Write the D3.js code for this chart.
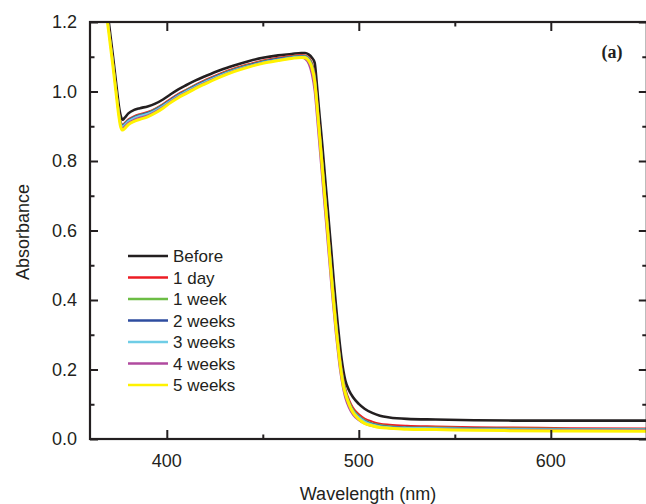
<!DOCTYPE html>
<html>
<head>
<meta charset="utf-8">
<script src="https://cdn.jsdelivr.net/npm/d3@7"></script>
<style>
body { margin: 0; background: #fff; }
text { font-family: "Liberation Sans", Arial, sans-serif; fill: #231f20; }
</style>
</head>
<body>
<svg id="chart"></svg>
<script>
// wavelength grid (nm) shared by every spectrum
var wavelengths = [366, 368, 370, 372, 374, 375, 376, 377, 378, 380, 383, 386, 390, 394, 398, 402, 406, 410, 415, 420,
	428, 435, 443, 450, 458, 465, 470, 472, 474, 475.5, 477, 478, 479, 480, 481, 482, 483, 484, 485, 486,
	487, 488, 489, 490, 491, 492, 493, 495, 497, 500, 503, 507, 511, 516, 525, 540, 560, 580, 610, 650];

var seriesNames = ["Before", "1 day", "1 week", "2 weeks", "3 weeks", "4 weeks", "5 weeks"];
var seriesColors = ["#231f20", "#ed1c24", "#6cbd45", "#2e4c9f", "#6fcde6", "#b04a9f", "#fff200"];

var before = [1.38, 1.28, 1.19, 1.10, 1.005, 0.96, 0.93, 0.919, 0.924, 0.937, 0.947, 0.952, 0.957, 0.965, 0.977, 0.992, 1.006, 1.018, 1.032, 1.044,
	1.062, 1.075, 1.088, 1.097, 1.104, 1.108, 1.111, 1.111, 1.106, 1.098, 1.083, 1.03, 0.965, 0.905, 0.845, 0.78, 0.715, 0.65, 0.585, 0.52,
	0.452, 0.39, 0.332, 0.279, 0.232, 0.195, 0.168, 0.139, 0.12, 0.101, 0.087, 0.075, 0.067, 0.062, 0.058, 0.056, 0.054, 0.053, 0.053, 0.053];
var day1 = [1.37, 1.27, 1.175, 1.085, 0.99, 0.945, 0.912, 0.905, 0.909, 0.92, 0.929, 0.935, 0.941, 0.951, 0.964, 0.979, 0.993, 1.005, 1.02, 1.033,
	1.052, 1.066, 1.079, 1.089, 1.097, 1.102, 1.105, 1.104, 1.097, 1.083, 1.05, 0.995, 0.93, 0.865, 0.8, 0.735, 0.67, 0.605, 0.54, 0.475,
	0.412, 0.354, 0.296, 0.247, 0.205, 0.171, 0.145, 0.112, 0.09, 0.071, 0.059, 0.05, 0.044, 0.041, 0.038, 0.036, 0.034, 0.033, 0.031, 0.030];
var week1 = [1.365, 1.265, 1.172, 1.082, 0.987, 0.942, 0.91, 0.903, 0.907, 0.918, 0.927, 0.933, 0.939, 0.949, 0.962, 0.977, 0.991, 1.003, 1.018, 1.031,
	1.05, 1.064, 1.077, 1.087, 1.095, 1.1, 1.103, 1.102, 1.095, 1.08, 1.045, 0.99, 0.925, 0.86, 0.795, 0.73, 0.665, 0.6, 0.535, 0.47,
	0.407, 0.349, 0.291, 0.242, 0.2, 0.166, 0.14, 0.107, 0.085, 0.066, 0.054, 0.045, 0.04, 0.037, 0.034, 0.033, 0.031, 0.030, 0.029, 0.028];
var week2 = [1.36, 1.262, 1.17, 1.08, 0.985, 0.94, 0.908, 0.902, 0.906, 0.917, 0.926, 0.932, 0.938, 0.948, 0.961, 0.976, 0.99, 1.002, 1.017, 1.03,
	1.049, 1.063, 1.076, 1.086, 1.094, 1.099, 1.102, 1.101, 1.093, 1.077, 1.04, 0.985, 0.92, 0.855, 0.79, 0.725, 0.66, 0.595, 0.53, 0.465,
	0.402, 0.344, 0.286, 0.237, 0.196, 0.163, 0.137, 0.104, 0.082, 0.064, 0.052, 0.043, 0.038, 0.035, 0.033, 0.032, 0.030, 0.029, 0.028, 0.027];
var week3 = [1.36, 1.26, 1.168, 1.078, 0.983, 0.938, 0.906, 0.9, 0.904, 0.915, 0.924, 0.93, 0.936, 0.946, 0.959, 0.974, 0.988, 1.0, 1.015, 1.028,
	1.047, 1.061, 1.074, 1.084, 1.092, 1.098, 1.101, 1.1, 1.092, 1.075, 1.038, 0.982, 0.917, 0.852, 0.787, 0.722, 0.657, 0.592, 0.527, 0.462,
	0.399, 0.341, 0.284, 0.235, 0.194, 0.161, 0.135, 0.102, 0.081, 0.063, 0.051, 0.042, 0.037, 0.034, 0.032, 0.031, 0.029, 0.028, 0.027, 0.027];
var week4 = [1.355, 1.255, 1.163, 1.073, 0.978, 0.933, 0.901, 0.895, 0.899, 0.91, 0.919, 0.925, 0.931, 0.942, 0.955, 0.971, 0.985, 0.997, 1.012, 1.025,
	1.044, 1.059, 1.072, 1.082, 1.09, 1.096, 1.098, 1.094, 1.078, 1.05, 1.0, 0.94, 0.875, 0.81, 0.745, 0.68, 0.615, 0.55, 0.485, 0.42,
	0.362, 0.304, 0.254, 0.207, 0.17, 0.14, 0.117, 0.088, 0.069, 0.054, 0.044, 0.037, 0.033, 0.031, 0.029, 0.028, 0.027, 0.026, 0.025, 0.025];
var week5 = [1.35, 1.25, 1.16, 1.07, 0.975, 0.93, 0.898, 0.889, 0.893, 0.905, 0.914, 0.92, 0.927, 0.938, 0.952, 0.968, 0.982, 0.994, 1.009, 1.022,
	1.042, 1.057, 1.071, 1.081, 1.089, 1.095, 1.098, 1.097, 1.088, 1.07, 1.03, 0.975, 0.91, 0.845, 0.78, 0.715, 0.65, 0.585, 0.515, 0.45,
	0.387, 0.328, 0.275, 0.227, 0.186, 0.153, 0.131, 0.099, 0.076, 0.057, 0.045, 0.038, 0.033, 0.031, 0.028, 0.027, 0.025, 0.024, 0.023, 0.022];

var seriesValues = [before, day1, week1, week2, week3, week4, week5];

var xMajor = [400, 500, 600];
var xMinor = [450, 550];
var yMajor = [0, 0.2, 0.4, 0.6, 0.8, 1.0, 1.2];
var yMinor = [0.1, 0.3, 0.5, 0.7, 0.9, 1.1];

var width = 646, height = 504;
var plotLeft = 90, plotTop = 22, plotBottom = 439, plotRight = 646.8;

var svg = d3.select("#chart")
	.attr("width", width)
	.attr("height", height);

var x = d3.scaleLinear().domain([360, 650]).range([plotLeft, plotRight]);
var y = d3.scaleLinear().domain([0, 1.2]).range([plotBottom, plotTop]);

svg.append("clipPath").attr("id", "plot")
	.append("rect")
	.attr("x", plotLeft).attr("y", plotTop)
	.attr("width", plotRight - plotLeft).attr("height", plotBottom - plotTop);

//draw spectra, 5 weeks ends on top
var line = d3.line()
	.x(function(d) { return x(d[0]); })
	.y(function(d) { return y(d[1]); })
	.curve(d3.curveMonotoneX);

var g = svg.append("g").attr("clip-path", "url(#plot)");
seriesValues.forEach(function(vals, i) {
	var pts = wavelengths.map(function(w, j) { return [w, vals[j]]; });
	g.append("path")
		.datum(pts)
		.attr("fill", "none")
		.attr("stroke", seriesColors[i])
		.attr("stroke-width", i == 6 ? 3 : (i == 0 ? 2.6 : 2))
		.attr("stroke-linejoin", "round")
		.attr("d", line);
});

//axes, ticks pointing inward
function axis(gen, tr, vals, len) {
	svg.append("g")
		.attr("transform", tr)
		.call(gen.tickValues(vals).tickSize(len).tickFormat(""))
		.call(function(a) {
			a.select(".domain").remove();
			a.selectAll("line").attr("stroke", "#231f20").attr("stroke-width", 2);
		});
}
axis(d3.axisTop(x), "translate(0," + plotBottom + ")", xMajor, 9);
axis(d3.axisTop(x), "translate(0," + plotBottom + ")", xMinor, 4.5);
axis(d3.axisBottom(x), "translate(0," + plotTop + ")", xMajor, 9);
axis(d3.axisBottom(x), "translate(0," + plotTop + ")", xMinor, 4.5);
axis(d3.axisRight(y), "translate(" + plotLeft + ",0)", yMajor, 8);
axis(d3.axisRight(y), "translate(" + plotLeft + ",0)", yMinor, 4.5);
axis(d3.axisLeft(y), "translate(" + plotRight + ",0)", yMajor, 8);
axis(d3.axisLeft(y), "translate(" + plotRight + ",0)", yMinor, 4.5);

svg.append("rect")
	.attr("x", plotLeft).attr("y", plotTop)
	.attr("width", plotRight - plotLeft).attr("height", plotBottom - plotTop)
	.attr("fill", "none")
	.attr("stroke", "#231f20")
	.attr("stroke-width", 2.2);

//tick labels
svg.selectAll(".xl").data(xMajor).enter().append("text")
	.attr("x", function(d) { return x(d); })
	.attr("y", 467)
	.attr("text-anchor", "middle")
	.style("font-size", "18px")
	.text(function(d) { return d; });

svg.selectAll(".yl").data(yMajor).enter().append("text")
	.attr("x", 77)
	.attr("y", function(d) { return y(d); })
	.attr("dy", "0.36em")
	.attr("text-anchor", "end")
	.style("font-size", "18px")
	.text(function(d) { return d.toFixed(1); });

//axis titles
svg.append("text")
	.attr("text-anchor", "middle")
	.attr("x", 368)
	.attr("y", 500)
	.style("font-size", "18px")
	.text("Wavelength (nm)");

svg.append("text")
	.attr("text-anchor", "middle")
	.attr("transform", "rotate(-90)")
	.attr("x", -232)
	.attr("y", 29)
	.style("font-size", "18px")
	.text("Absorbance");

svg.append("text")
	.attr("text-anchor", "middle")
	.attr("x", 612)
	.attr("y", 58)
	.style("font-family", "'Liberation Serif', 'Times New Roman', serif")
	.style("font-weight", "bold")
	.style("font-size", "18px")
	.text("(a)");

//legend
var lg = svg.append("g");
seriesNames.forEach(function(name, i) {
	var yy = 256 + i * 21.5;
	lg.append("line")
		.attr("x1", 128).attr("x2", 168)
		.attr("y1", yy).attr("y2", yy)
		.attr("stroke", seriesColors[i])
		.attr("stroke-width", 2.5);
	lg.append("text")
		.attr("x", 173)
		.attr("y", yy)
		.attr("dy", "0.36em")
		.style("font-size", "17px")
		.text(name);
});
</script>
</body>
</html>
